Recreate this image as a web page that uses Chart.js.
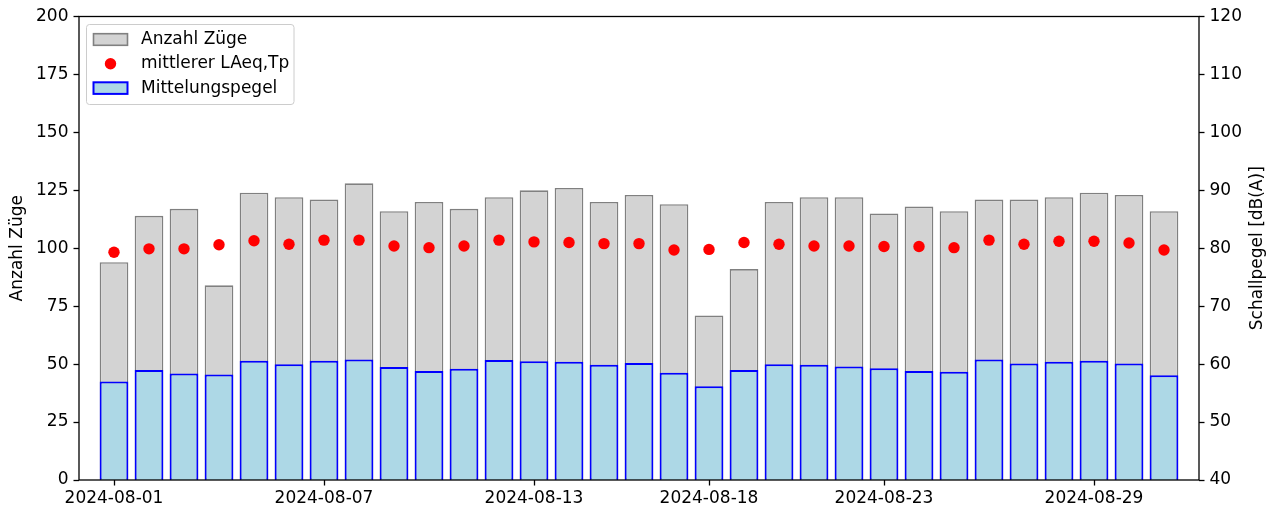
<!DOCTYPE html>
<html>
<head>
<meta charset="utf-8">
<script src="https://cdn.jsdelivr.net/npm/chart.js@4.4.1/dist/chart.umd.min.js"></script>
<style>
  html, body { margin: 0; padding: 0; background: #fff; }
  #wrap { width: 1278px; height: 510px; }
</style>
</head>
<body>
<div id="wrap"><canvas id="canvas" width="1278" height="510"></canvas></div>
<script>
const dates = [
  '2024-08-01', '2024-08-02', '2024-08-03', '2024-08-04', '2024-08-05', '2024-08-06',
  '2024-08-07', '2024-08-08', '2024-08-09', '2024-08-10', '2024-08-11', '2024-08-12',
  '2024-08-13', '2024-08-14', '2024-08-15', '2024-08-16', '2024-08-17', '2024-08-18',
  '2024-08-19', '2024-08-20', '2024-08-21', '2024-08-22', '2024-08-23', '2024-08-24',
  '2024-08-25', '2024-08-26', '2024-08-27', '2024-08-28', '2024-08-29', '2024-08-30',
  '2024-08-31'
];
const trainCounts = [94, 114, 117, 84, 124, 122, 121, 128, 116, 120, 117, 122, 125, 126, 120, 123,
  119, 71, 91, 120, 122, 122, 115, 118, 116, 121, 121, 122, 124, 123, 116];
const meanLAeq = [79.3, 79.9, 79.9, 80.6, 81.3, 80.7, 81.4, 81.4, 80.4, 80.1, 80.4, 81.4, 81.1, 81.0,
  80.8, 80.8, 79.7, 79.8, 81.0, 80.7, 80.4, 80.4, 80.3, 80.3, 80.1, 81.4, 80.7, 81.2, 81.2, 80.9, 79.7];
const levelDb = [57.0, 59.0, 58.4, 58.2, 60.6, 60.0, 60.6, 60.8, 59.5, 58.8, 59.2, 60.7, 60.5, 60.4,
  59.9, 60.2, 58.5, 56.2, 59.0, 60.0, 59.9, 59.6, 59.3, 58.8, 58.7, 60.8, 60.1, 60.4, 60.6, 60.1, 58.1];
const tickDates = ['2024-08-01', '2024-08-07', '2024-08-13', '2024-08-18', '2024-08-23', '2024-08-29'];
const leftTitle = 'Anzahl Züge';
const rightTitle = 'Schallpegel [dB(A)]';

const FONT = '"DejaVu Sans", sans-serif';
Chart.defaults.font.family = FONT;
Chart.defaults.font.size = 17;
Chart.defaults.color = '#000';

const toPoints = (arr) => arr.map((v, i) => ({ x: i, y: v }));

// frame, axis titles and a matplotlib-like legend
const decorations = {
  id: 'decorations',
  afterDatasetsDraw(chart) {
    const { ctx, chartArea: a } = chart;
    ctx.save();
    ctx.strokeStyle = '#000';
    ctx.lineWidth = 1.3;
    ctx.strokeRect(a.left, a.top, a.right - a.left, a.bottom - a.top);
    ctx.restore();
  },
  afterDraw(chart) {
    const { ctx, chartArea: a } = chart;
    const midY = (a.top + a.bottom) / 2;
    ctx.save();
    ctx.fillStyle = '#000';
    ctx.font = '17px ' + FONT;
    ctx.textAlign = 'center';
    ctx.textBaseline = 'middle';
    [[18, leftTitle], [1258, rightTitle]].forEach(([x, t]) => {
      ctx.save();
      ctx.translate(x, midY);
      ctx.rotate(-Math.PI / 2);
      ctx.fillText(t, 0, 0);
      ctx.restore();
    });

    // legend box
    const bx = 86.5, by = 24.5, bw = 207.5, bh = 80, r = 3;
    ctx.beginPath();
    ctx.roundRect(bx, by, bw, bh, r);
    ctx.fillStyle = 'rgba(255,255,255,0.8)';
    ctx.fill();
    ctx.strokeStyle = '#cccccc';
    ctx.lineWidth = 1;
    ctx.stroke();

    ctx.textAlign = 'left';
    chart.data.datasets.forEach((ds, i) => {
      const rowY = 39.5 + i * 24.3;
      if (ds.type === 'line') {
        ctx.beginPath();
        ctx.arc(110.5, rowY, ds.pointRadius, 0, Math.PI * 2);
        ctx.fillStyle = ds.pointBackgroundColor;
        ctx.fill();
      } else {
        ctx.fillStyle = ds.backgroundColor;
        ctx.fillRect(93.5, rowY - 5.8, 34, 11.6);
        ctx.strokeStyle = ds.borderColor;
        ctx.lineWidth = ds.borderWidth;
        ctx.strokeRect(93.5, rowY - 5.8, 34, 11.6);
      }
      ctx.fillStyle = '#000';
      ctx.fillText(ds.label, 141, rowY);
    });
    ctx.restore();
  }
};

const config = {
  type: 'bar',
  data: {
    datasets: [
      {
        label: 'Anzahl Züge',
        data: toPoints(trainCounts),
        yAxisID: 'yL',
        backgroundColor: '#d3d3d3',
        borderColor: '#808080',
        borderWidth: 1.6,
        borderSkipped: false,
        grouped: false,
        categoryPercentage: 1,
        barPercentage: 0.82,
        order: 3,
      },
      {
        type: 'line',
        label: 'mittlerer LAeq,Tp',
        data: toPoints(meanLAeq),
        yAxisID: 'yR',
        showLine: false,
        pointRadius: 5.7,
        pointBackgroundColor: '#ff0000',
        pointBorderWidth: 0,
        borderColor: '#ff0000',
        order: 1,
      },
      {
        label: 'Mittelungspegel',
        data: toPoints(levelDb),
        yAxisID: 'yR',
        backgroundColor: '#add8e6',
        borderColor: '#0000ff',
        borderWidth: 2,
        borderSkipped: false,
        grouped: false,
        categoryPercentage: 1,
        barPercentage: 0.82,
        order: 2,
      },
    ],
  },
  options: {
    responsive: false,
    animation: false,
    devicePixelRatio: 1,
    layout: { padding: { top: 16.5, left: 0, right: 0, bottom: 0 } },
    plugins: { legend: { display: false }, tooltip: { enabled: false } },
    scales: {
      x: {
        type: 'linear',
        min: -1,
        max: 31,
        offset: false,
        afterBuildTicks: (scale) => {
          scale.ticks = tickDates.map((d) => ({ value: dates.indexOf(d) }));
        },
        afterFit: (scale) => { scale.height = 30; },
        ticks: {
          autoSkip: false,
          maxRotation: 0,
          padding: 3,
          callback: (v) => dates[v],
        },
        grid: { offset: false, drawOnChartArea: false, drawTicks: true, tickLength: 5.5, tickColor: '#000', tickWidth: 1.3 },
        border: { display: false },
      },
      yL: {
        position: 'left',
        min: 0,
        max: 200,
        afterFit: (scale) => { scale.width = 79; },
        ticks: { stepSize: 25, padding: 5 },
        grid: { drawOnChartArea: false, drawTicks: true, tickLength: 5.5, tickColor: '#000', tickWidth: 1.3 },
        border: { display: false },
      },
      yR: {
        position: 'right',
        min: 40,
        max: 120,
        afterFit: (scale) => { scale.width = 79; },
        ticks: { stepSize: 10, padding: 5 },
        grid: { drawOnChartArea: false, drawTicks: true, tickLength: 5.5, tickColor: '#000', tickWidth: 1.3 },
        border: { display: false },
      },
    },
  },
  plugins: [decorations],
};

const ctx = document.getElementById('canvas').getContext('2d');
window.myChart = new Chart(ctx, config);
</script>
</body>
</html>
